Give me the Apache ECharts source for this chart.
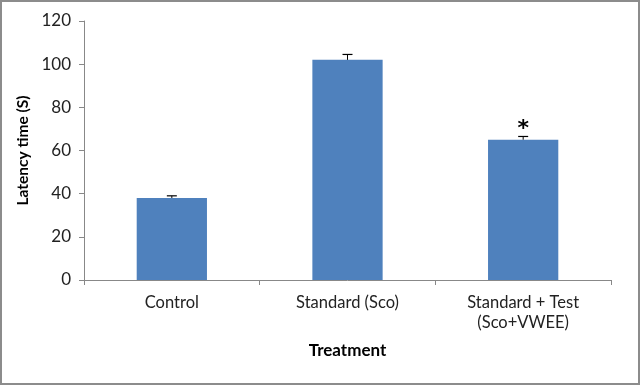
<!DOCTYPE html>
<html>
<head>
<meta charset="utf-8">
<script src="https://cdn.jsdelivr.net/npm/echarts@6/dist/echarts.min.js"></script>
<style>
html,body{margin:0;padding:0;background:#fff;}
#chart{width:640px;height:385px;box-sizing:border-box;border:2px solid #8c8c8c;}
</style>
</head>
<body>
<div id="chart"></div>
<script>
const categories = ['Control', 'Standard (Sco)', 'Standard + Test\n(Sco+VWEE)'];
const latency = [38, 102, 65];
const errors = [1, 2.5, 1.5];
const marks = ['', '', '*'];
const yTicks = {min: 0, max: 120, interval: 20};

const chart = echarts.init(document.getElementById('chart'));
const font = 'Lato, "Liberation Sans", sans-serif';
chart.setOption({
  animation: false,
  grid: {left: 82, right: 27, top: 19, bottom: 103},
  xAxis: {
    type: 'category',
    data: categories,
    name: 'Treatment',
    nameLocation: 'middle',
    nameGap: 62,
    nameTextStyle: {fontFamily: font, fontSize: 17, fontWeight: 'bold', color: '#000'},
    axisLine: {lineStyle: {color: '#888', width: 1}},
    axisTick: {show: true, length: 5, lineStyle: {color: '#888'}, alignWithLabel: false},
    axisLabel: {fontFamily: font, fontSize: 16.5, color: '#222', margin: 13, lineHeight: 20}
  },
  yAxis: {
    type: 'value',
    min: yTicks.min, max: yTicks.max, interval: yTicks.interval,
    name: 'Latency time (S)',
    nameLocation: 'middle',
    nameGap: 44,
    nameTextStyle: {fontFamily: font, fontSize: 15.5, fontWeight: 'bold', color: '#000'},
    axisLine: {show: true, lineStyle: {color: '#888', width: 1}},
    axisTick: {show: true, length: 5, lineStyle: {color: '#888'}},
    splitLine: {show: false},
    axisLabel: {fontFamily: font, fontSize: 17, color: '#222', margin: 13}
  },
  series: [
    {
      type: 'bar',
      data: latency,
      barWidth: '40%',
      itemStyle: {color: '#4F81BD'},
      z: 2
    },
    {
      type: 'custom',
      data: latency.map((v, i) => [i, v, errors[i]]),
      z: 3,
      renderItem: function (params, api) {
        const x = api.value(0);
        const v = api.value(1);
        const e = api.value(2);
        const base = api.coord([x, v]);
        const top = api.coord([x, v + e]);
        const children = [
          {type: 'line', shape: {x1: base[0], y1: base[1], x2: top[0], y2: top[1]}, style: {stroke: '#000', lineWidth: 1}},
          {type: 'line', shape: {x1: top[0] - 5, y1: top[1], x2: top[0] + 5, y2: top[1]}, style: {stroke: '#000', lineWidth: 1.2}}
        ];
        const m = marks[params.dataIndex];
        if (m) {
          children.push({type: 'text', style: {text: m, x: top[0], y: top[1] - 7, align: 'center', verticalAlign: 'middle', fontSize: 22, fontWeight: 'bold', fontFamily: '"DejaVu Sans", sans-serif', fill: '#000'}});
        }
        return {type: 'group', children: children};
      }
    }
  ]
});
</script>
</body>
</html>
